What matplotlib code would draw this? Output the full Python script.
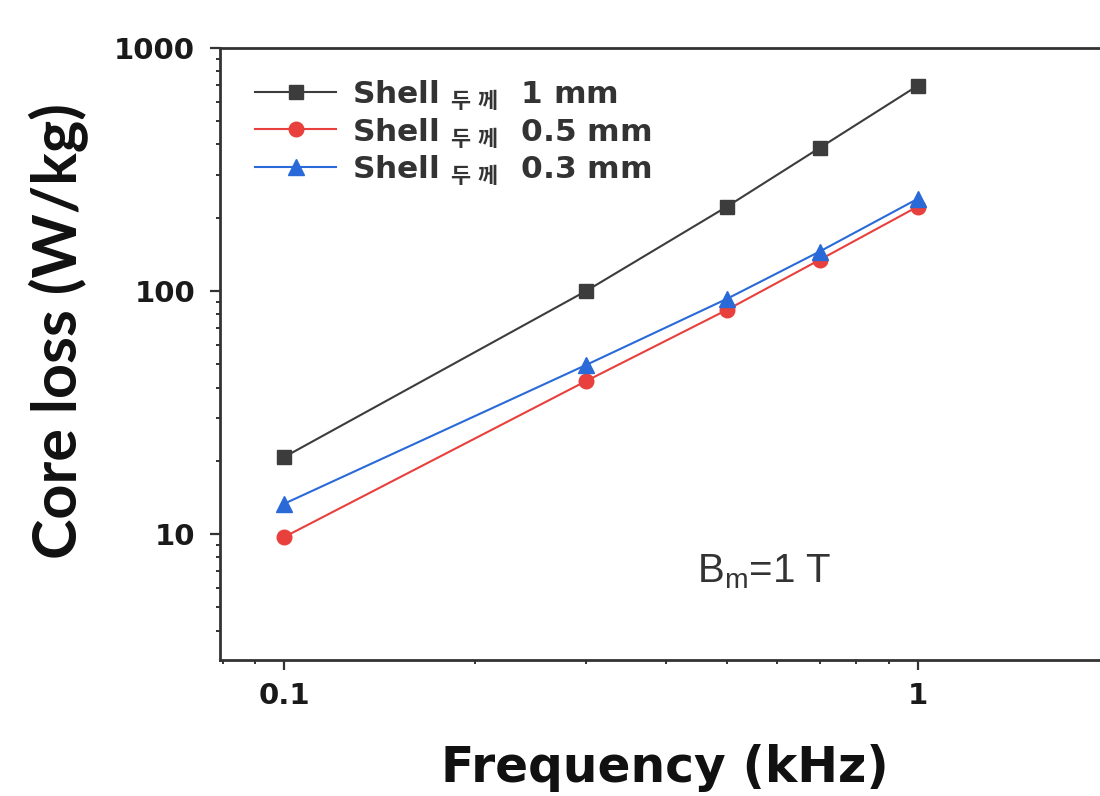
import matplotlib.pyplot as plt
from matplotlib.ticker import LogLocator, NullFormatter, FixedLocator, FixedFormatter

plt.rcParams['font.family'] = ['DejaVu Sans', 'Noto Sans CJK KR']
plt.rcParams['mathtext.fontset'] = 'custom'
plt.rcParams['mathtext.rm'] = 'Liberation Sans'
plt.rcParams['mathtext.bf'] = 'Noto Sans CJK KR:bold'

freq = [0.1, 0.3, 0.5, 0.7, 1.0]
loss_1mm = [20.7, 100, 222, 387, 698]
loss_05mm = [9.7, 42.6, 83.5, 134, 222]
loss_03mm = [13.3, 49.6, 92.7, 145, 239]
labels = [r'Shell $_{\mathbf{두}\ \mathbf{께}}$  1 mm',
          r'Shell $_{\mathbf{두}\ \mathbf{께}}$  0.5 mm',
          r'Shell $_{\mathbf{두}\ \mathbf{께}}$  0.3 mm']

fig = plt.figure(figsize=(11, 7.96), dpi=100)
ax = fig.add_axes([0.2, 0.171, 0.8, 0.769])

ax.plot(freq, loss_1mm, color='#3c3c3c', marker='s', markersize=10.5, linewidth=1.5, label=labels[0])
ax.plot(freq, loss_05mm, color='#e8403c', marker='o', markersize=10.5, linewidth=1.5, label=labels[1])
ax.plot(freq, loss_03mm, color='#2a6ad8', marker='^', markersize=12, linewidth=1.5, label=labels[2])

ax.set_xscale('log')
ax.set_yscale('log')
ax.set_xlim(0.0792, 1.94)
ax.set_ylim(3.03, 1000)

ax.xaxis.set_major_locator(FixedLocator([0.1, 1]))
ax.xaxis.set_major_formatter(FixedFormatter(['0.1', '1']))
ax.xaxis.set_minor_locator(LogLocator(base=10, subs=range(2, 10)))
ax.xaxis.set_minor_formatter(NullFormatter())
ax.yaxis.set_major_locator(FixedLocator([10, 100, 1000]))
ax.yaxis.set_major_formatter(FixedFormatter(['10', '100', '1000']))
ax.yaxis.set_minor_locator(LogLocator(base=10, subs=range(2, 10)))
ax.yaxis.set_minor_formatter(NullFormatter())

ax.spines['right'].set_visible(False)
for s in ['left', 'bottom', 'top']:
    ax.spines[s].set_linewidth(2)
    ax.spines[s].set_color('#333333')
ax.tick_params(which='major', direction='out', length=7, width=1.6, labelsize=21,
               colors='#333333', labelcolor='#1a1a1a')
ax.tick_params(axis='y', which='major', pad=11)
ax.tick_params(axis='x', which='major', pad=9)
ax.tick_params(which='minor', direction='out', length=3, width=1.4, colors='#333333')
for t in ax.get_xticklabels() + ax.get_yticklabels():
    t.set_fontweight('bold')

fig.text(665 / 1100, 1 - 782 / 796, 'Frequency (kHz)', fontsize=35, fontweight='bold',
         ha='center', va='baseline', color='#111111')
fig.text(59 / 1100, 1 - 331 / 796, 'Core loss (W/kg)', fontsize=44, fontweight='bold',
         family='Lato', rotation=90, ha='center', va='center', color='#111111')

ax.text(0.448, 6.29, r'B$_\mathrm{m}$=1 T', fontsize=29, color='#333333',
        family='Liberation Sans', ha='left', va='baseline')

leg = ax.legend(loc='upper left', bbox_to_anchor=(35 / 880, 0.951), frameon=False,
                prop={'size': 22.5, 'weight': 'bold'}, handlelength=2.6,
                handletextpad=0.5, labelspacing=0.12, borderaxespad=0, borderpad=0)
for t in leg.get_texts():
    t.set_color('#333333')

fig.savefig('out.png', dpi=100)
